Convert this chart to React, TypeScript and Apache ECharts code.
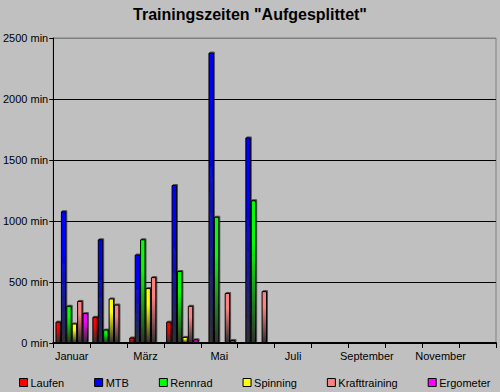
import React, { useEffect, useRef } from "react";
import * as echarts from "echarts";

const months = ["Januar", "Februar", "März", "April", "Mai", "Juni", "Juli", "August", "September", "Oktober", "November", "Dezember"];
const seriesNames = ["Laufen", "MTB", "Rennrad", "Spinning", "Krafttraining", "Ergometer"];
const seriesColors = ["#ff0000", "#0000ff", "#00ff00", "#ffff00", "#ff8080", "#ff00ff"];

const laufen = [175, 215, 45, 175, 0, 0, 0, 0, 0, 0, 0, 0];
const mtb = [1080, 850, 725, 1295, 2380, 1685, 0, 0, 0, 0, 0, 0];
const rennrad = [305, 110, 850, 590, 1035, 1170, 0, 0, 0, 0, 0, 0];
const spinning = [160, 365, 450, 50, 0, 0, 0, 0, 0, 0, 0, 0];
const krafttraining = [345, 315, 540, 305, 410, 425, 0, 0, 0, 0, 0, 0];
const ergometer = [245, 0, 0, 30, 25, 0, 0, 0, 0, 0, 0, 0];

const seriesData = [laufen, mtb, rennrad, spinning, krafttraining, ergometer];
const yTicks = [0, 500, 1000, 1500, 2000, 2500];

export default function App() {
  const ref = useRef<HTMLDivElement>(null);
  useEffect(() => {
    if (!ref.current) return;
    const chart = echarts.init(ref.current, null, { renderer: "svg" });
    const font = "Liberation Sans, Arial, sans-serif";
    chart.setOption({
      animation: false,
      backgroundColor: "#c0c0c0",
      title: {
        text: 'Trainingszeiten "Aufgesplittet"',
        left: "center",
        top: 1,
        textStyle: { fontFamily: font, fontSize: 16, fontWeight: "bold", color: "#000" },
      },
      grid: {
        left: 53,
        right: 4,
        top: 38,
        bottom: 49,
        show: true,
        borderColor: "#808080",
        borderWidth: 1,
        backgroundColor: "transparent",
      },
      legend: {
        bottom: 4,
        left: 19,
        width: 480,
        padding: 0,
        itemWidth: 8,
        itemHeight: 8,
        itemGap: 30,
        textStyle: { fontFamily: font, fontSize: 11, color: "#000", padding: [0, 0, 0, -2] },
        data: seriesNames.map((n, i) => ({
          name: n,
          icon: "rect",
          itemStyle: { color: seriesColors[i], borderColor: "#000", borderWidth: 1 },
        })),
      },
      xAxis: {
        type: "category",
        data: months,
        boundaryGap: true,
        axisLine: { show: true, lineStyle: { color: "#000", width: 2 } },
        axisTick: { show: true, interval: 0, length: 5, lineStyle: { color: "#000" } },
        axisLabel: { interval: 1, fontFamily: font, fontSize: 11, color: "#000", margin: 7 },
        splitLine: { show: false },
      },
      yAxis: {
        type: "value",
        min: 0,
        max: 2500,
        interval: 500,
        axisLine: { show: true, lineStyle: { color: "#000", width: 1 } },
        axisTick: { show: true, length: 4, lineStyle: { color: "#000" } },
        axisLabel: {
          fontFamily: font,
          fontSize: 11,
          color: "#000",
          margin: 5,
          formatter: (v: number) => (yTicks.includes(v) ? `${v} min` : ""),
        },
        splitLine: {
          show: true,
          lineStyle: { color: ["#000", "#000", "#000", "#000", "#000", "#808080"], width: 1 },
        },
      },
      series: seriesData.map((d, i) => ({
        name: seriesNames[i],
        type: "bar",
        data: d,
        barGap: "0%",
        barCategoryGap: "12%",
        itemStyle: {
          color: new echarts.graphic.LinearGradient(0, 0, 0, 1, [
            { offset: 0, color: seriesColors[i] },
            { offset: 0.3, color: seriesColors[i] },
            { offset: 1, color: "#303030" },
          ]),
          borderColor: "#000",
          borderWidth: 1,
          shadowColor: "rgba(0,0,0,0.6)",
          shadowOffsetX: 1,
          shadowOffsetY: -1,
          shadowBlur: 0,
        },
      })),
    });
    return () => chart.dispose();
  }, []);
  return <div ref={ref} style={{ position: "fixed", left: 0, top: 0, width: 500, height: 392 }} />;
}
